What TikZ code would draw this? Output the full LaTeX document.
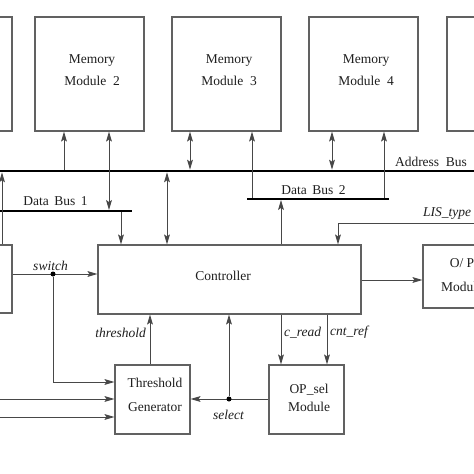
\documentclass[tikz,border=0pt]{standalone}
\usepackage{fontspec}
\setmainfont{Liberation Serif}
\usetikzlibrary{arrows.meta,calc}
\begin{document}
\begin{tikzpicture}[x=1pt,y=-1pt,
  font=\fontsize{13.5}{16}\selectfont,
  ln/.style={draw=black!72, line width=0.9pt},
  box/.style={draw=black!62, line width=1.1pt, inner sep=0pt},
  membox/.style={box, minimum width=109pt, minimum height=114pt},
  tip/.tip={Stealth[length=10pt,width=5.8pt,inset=2pt]},
  arr/.style={ln, -tip},
  darr/.style={ln, tip-tip},
  txt/.style={inner sep=0pt, align=center, text=black!88},
  lab/.style={inner sep=0pt, font=\fontsize{13.5}{16}\selectfont\itshape, text=black!88},
  dot/.style={circle, fill=black, inner sep=0pt, minimum size=5pt},
]
\useasboundingbox (0,0) rectangle (474,474);
\clip (0,0) rectangle (474,474);
\fill[white] (0,0) rectangle (474,474);

% memory modules
\node[membox] (m1) at (-42.5,74) {};
\node[membox] (m2) at (89.5,74) {};
\node[membox] (m3) at (226.5,74) {};
\node[membox] (m4) at (363.5,74) {};
\node[membox] (m5) at (501.5,74) {};
\node[txt, font=\fontsize{13.5}{22}\selectfont] (m2t) at (92,70) {Memory\\Module\hspace{0.5em}2};
\node[txt, font=\fontsize{13.5}{22}\selectfont] (m3t) at (229,70) {Memory\\Module\hspace{0.5em}3};
\node[txt, font=\fontsize{13.5}{22}\selectfont] (m4t) at (366,70) {Memory\\Module\hspace{0.5em}4};

% other blocks
\node[box, minimum width=84pt, minimum height=68pt] (lb) at (-30,279) {};
\node[box, minimum width=263pt, minimum height=69pt] (ctrl) at (229.5,279.5) {};
\node[txt] (ctrlt) at (223,276) {Controller};
\node[box, minimum width=78pt, minimum height=63pt] (op) at (462,276.5) {};
\node[txt, font=\fontsize{13.5}{24}\selectfont] (opt) at (462,275) {O/ P\\Module};
\node[box, minimum width=75pt, minimum height=69pt] (tg) at (152.5,399.5) {};
\node[txt, font=\fontsize{13.5}{24}\selectfont] (tgt) at (155,395) {Threshold\\Generator};
\node[box, minimum width=75pt, minimum height=69pt] (os) at (306.5,399.5) {};
\node[txt, font=\fontsize{13.5}{18}\selectfont] (ost) at (309,397.5) {OP\_sel\\Module};

% buses
\coordinate (abL) at (0,171);
\coordinate (abR) at (474,171);
\coordinate (db1L) at (0,211);
\coordinate (db1R) at (132,211);
\coordinate (db2L) at (247,199);
\coordinate (db2R) at (389,199);
\draw[line width=2.6pt] (abL) -- (abR);
\draw[line width=1.9pt] (db1L) -- (db1R);
\draw[line width=1.9pt] (db2L) -- (db2R);
\node[txt] (labus) at (431,162) {Address\hspace{0.5em}Bus};
\node[txt] (ldb1) at (55.5,201) {Data\hspace{0.4em}Bus\hspace{0.4em}1};
\node[txt] (ldb2) at (313.5,190) {Data\hspace{0.4em}Bus\hspace{0.4em}2};

% bus connectors
\draw[arr, shorten >=1.3pt] (lb.north -| 2,0) -- (abL -| 2,0);
\draw[arr, shorten <=1.3pt] (abL -| 64,0) -- (m2.south -| 64,0);
\draw[darr, shorten >=0.95pt] (m2.south -| 109,0) -- (db1L -| 109,0);
\draw[arr, shorten <=0.95pt] (db1L -| 121,0) -- (ctrl.north -| 121,0);
\draw[darr, shorten <=1.3pt] (abL -| 167,0) -- (ctrl.north -| 167,0);
\draw[darr, shorten >=1.3pt] (m3.south -| 190,0) -- (abL -| 190,0);
\draw[arr, shorten <=0.95pt] (db2L -| 252,0) -- (m3.south -| 252,0);
\draw[arr, shorten >=0.95pt] (ctrl.north -| 281,0) -- (db2L -| 281,0);
\draw[darr, shorten >=1.3pt] (m4.south -| 332,0) -- (abL -| 332,0);
\draw[arr, shorten <=0.95pt] (db2L -| 384,0) -- (m4.south -| 384,0);

% LIS_type
\coordinate (lisin) at (474,223);
\draw[arr] (lisin) -| (ctrl.north -| 338,0);
\node[lab] (llis) at (447,213) {LIS\_type};

% switch
\draw[arr] (lb.east |- 0,274) -- (ctrl.west |- 0,274);
\node[dot] (sw) at (53,274) {};
\draw[arr] (sw) |- (tg.west |- 0,382);
\node[lab] (lsw) at (50.5,266) {switch};

% left inputs to threshold generator
\coordinate (in1) at (0,399);
\coordinate (in2) at (0,417);
\draw[arr] (in1) -- (tg.west |- in1);
\draw[arr] (in2) -- (tg.west |- in2);

% threshold
\draw[arr] (tg.north -| 150,0) -- (ctrl.south -| 150,0);
\node[lab, anchor=east] (lth) at (146,333) {threshold};

% select
\draw[arr] (os.west |- 0,399) -- (tg.east |- 0,399);
\node[dot] (sel) at (229,399) {};
\draw[arr] (sel) -- (ctrl.south -| sel);
\node[lab, anchor=west] (lsel) at (213,415) {select};

% c_read / cnt_ref
\draw[arr] (ctrl.south -| 281,0) -- (os.north -| 281,0);
\draw[arr] (ctrl.south -| 327,0) -- (os.north -| 327,0);
\node[lab, anchor=west] (lcr) at (284,333) {c\_read};
\node[lab, anchor=west] (lcn) at (330,332) {cnt\_ref};

% controller to O/P
\draw[arr] (ctrl.east |- 0,280) -- (op.west |- 0,280);
\end{tikzpicture}
\end{document}
